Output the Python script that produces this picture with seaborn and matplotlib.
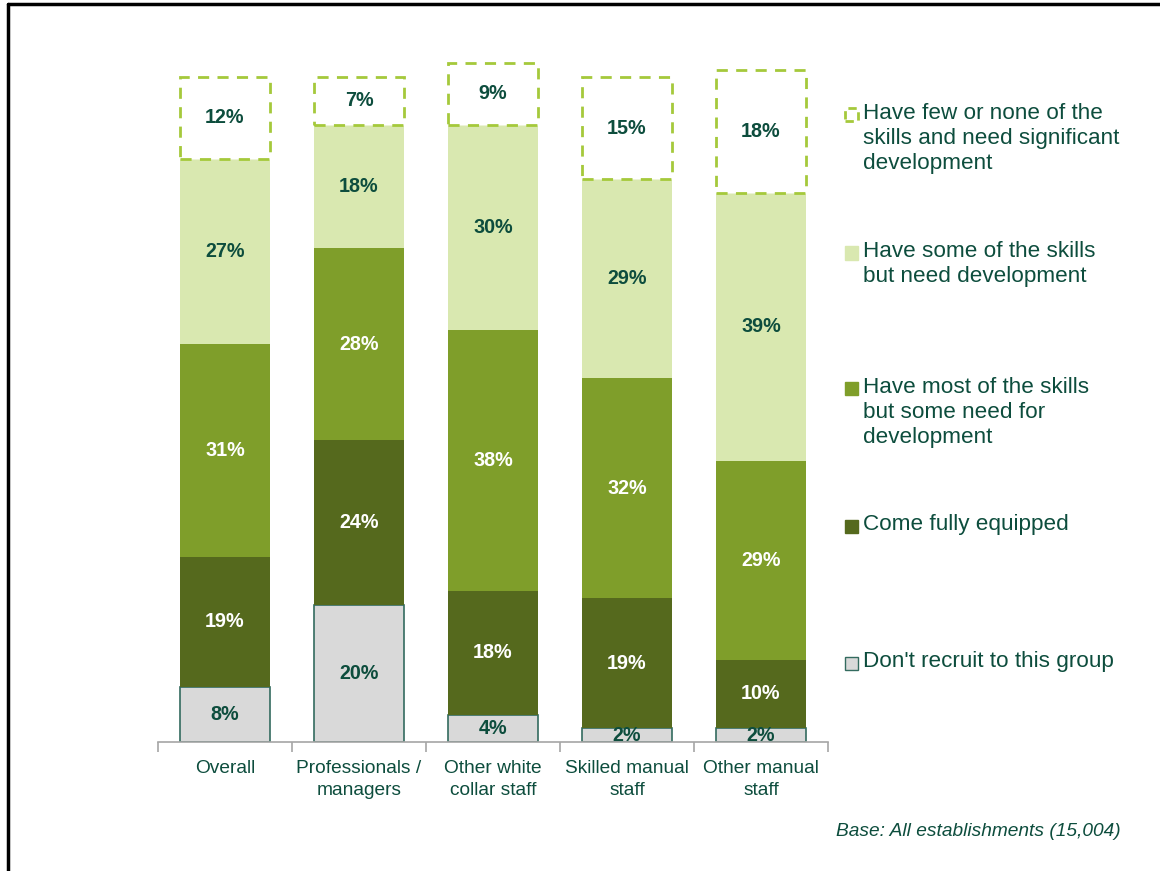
import matplotlib
matplotlib.use("Agg")
import matplotlib.pyplot as plt
from matplotlib.patches import Rectangle
from matplotlib.lines import Line2D
import numpy as np
import pandas as pd
import seaborn as sns

# ---- data -------------------------------------------------------------
categories = ["Overall", "Professionals /\nmanagers", "Other white\ncollar staff",
              "Skilled manual\nstaff", "Other manual\nstaff"]
dont_recruit = [8, 20, 4, 2, 2]
fully_equipped = [19, 24, 18, 19, 10]
most_skills = [31, 28, 38, 32, 29]
some_skills = [27, 18, 30, 29, 39]
few_skills = [12, 7, 9, 15, 18]

series_names = [
    "Don't recruit to this group",
    "Come fully equipped",
    "Have most of the skills\nbut some need for\ndevelopment",
    "Have some of the skills\nbut need development",
    "Have few or none of the\nskills and need significant\ndevelopment",
]
series_values = [dont_recruit, fully_equipped, most_skills, some_skills, few_skills]

# ---- styling ------------------------------------------------------------
sns.set_theme(style="white")
plt.rcParams["font.family"] = ["Liberation Sans", "DejaVu Sans"]

TEXT = "#0D4D3D"
fills = ["#D9D9D9", "#55691D", "#7F9E2A", "#D9E8B0", "#FFFFFF"]
edges = ["#336B5F", "none", "none", "none", "#A5C93B"]
label_colors = [TEXT, "white", "white", TEXT, TEXT]

fig = plt.figure(figsize=(11.6, 8.71), dpi=100)
ax = fig.add_axes([158 / 1160, 129 / 871, 670 / 1160, 686 / 871])

bottoms = np.zeros(len(categories))
for i, (name, vals) in enumerate(zip(series_names, series_values)):
    df = pd.DataFrame({"category": categories, "value": vals})
    n_before = len(ax.patches)
    kws = dict(facecolor=fills[i], edgecolor=edges[i],
               linewidth=1.2 if i == 0 else (2.0 if i == 4 else 0))
    if i == 4:
        kws["linestyle"] = (0, (4, 3))
    sns.barplot(data=df, x="category", y="value", order=categories,
                width=0.67, ax=ax, errorbar=None, **kws)
    bars = ax.patches[n_before:]
    for b, bt, v in zip(bars, bottoms, vals):
        b.set_y(bt)
        b.set_height(v)
    container = ax.containers[-1]
    ax.bar_label(container, labels=[f"{v}%" for v in vals], label_type="center",
                 color=label_colors[i], fontsize=14.2, fontweight="bold")
    bottoms += np.array(vals)

ax.set_xlim(-0.5, 4.5)
ax.set_ylim(0, 100)
ax.set_xlabel("")
ax.set_ylabel("")
ax.set_yticks([])
for s in ["top", "right", "left"]:
    ax.spines[s].set_visible(False)
ax.spines["bottom"].set_color("#A6A6A6")
ax.spines["bottom"].set_linewidth(1.2)

ax.set_xticks(range(len(categories)))
ax.set_xticklabels(categories, fontsize=13.8, color=TEXT, linespacing=1.38)
ax.set_xticks(np.arange(-0.5, len(categories)), minor=True)
ax.tick_params(axis="x", which="major", length=0, pad=13)
ax.tick_params(axis="x", which="minor", length=7, width=1.2, color="#A6A6A6",
               direction="out", bottom=True)

# ---- legend drawn as text with swatches on the right ----------------------
legend_rows = [  # (series index, y pixel of first text line centre)
    (4, 115),
    (3, 253),
    (2, 389),
    (1, 526),
    (0, 663),
]
H = 871
for idx, ypx in legend_rows:
    fy = 1 - ypx / H
    sw = 13
    rect = Rectangle((845 / 1160, fy - (sw / 2) / H), sw / 1160, sw / H,
                     transform=fig.transFigure, facecolor=fills[idx],
                     edgecolor=edges[idx] if edges[idx] != "none" else fills[idx],
                     linewidth=2.0 if idx == 4 else 1.0,
                     linestyle=(0, (3, 2)) if idx == 4 else "solid")
    fig.add_artist(rect)
    fig.text(863 / 1160, fy + 12 / H, series_names[idx], ha="left", va="top",
             fontsize=16.2, color=TEXT, linespacing=1.24,
             transform=fig.transFigure)

fig.text(1121 / 1160, 1 - 831 / H, "Base: All establishments (15,004)",
         ha="right", va="center", fontsize=13.8, style="italic", color=TEXT)

# frame lines along the top and left edges
fig.add_artist(Line2D([8 / 1160, 1], [1 - 4.5 / H, 1 - 4.5 / H],
                      transform=fig.transFigure, color="black", linewidth=2.5))
fig.add_artist(Line2D([8 / 1160, 8 / 1160], [0, 1 - 4.5 / H],
                      transform=fig.transFigure, color="black", linewidth=2.5))

fig.savefig("out.png", dpi=100, facecolor="white")
